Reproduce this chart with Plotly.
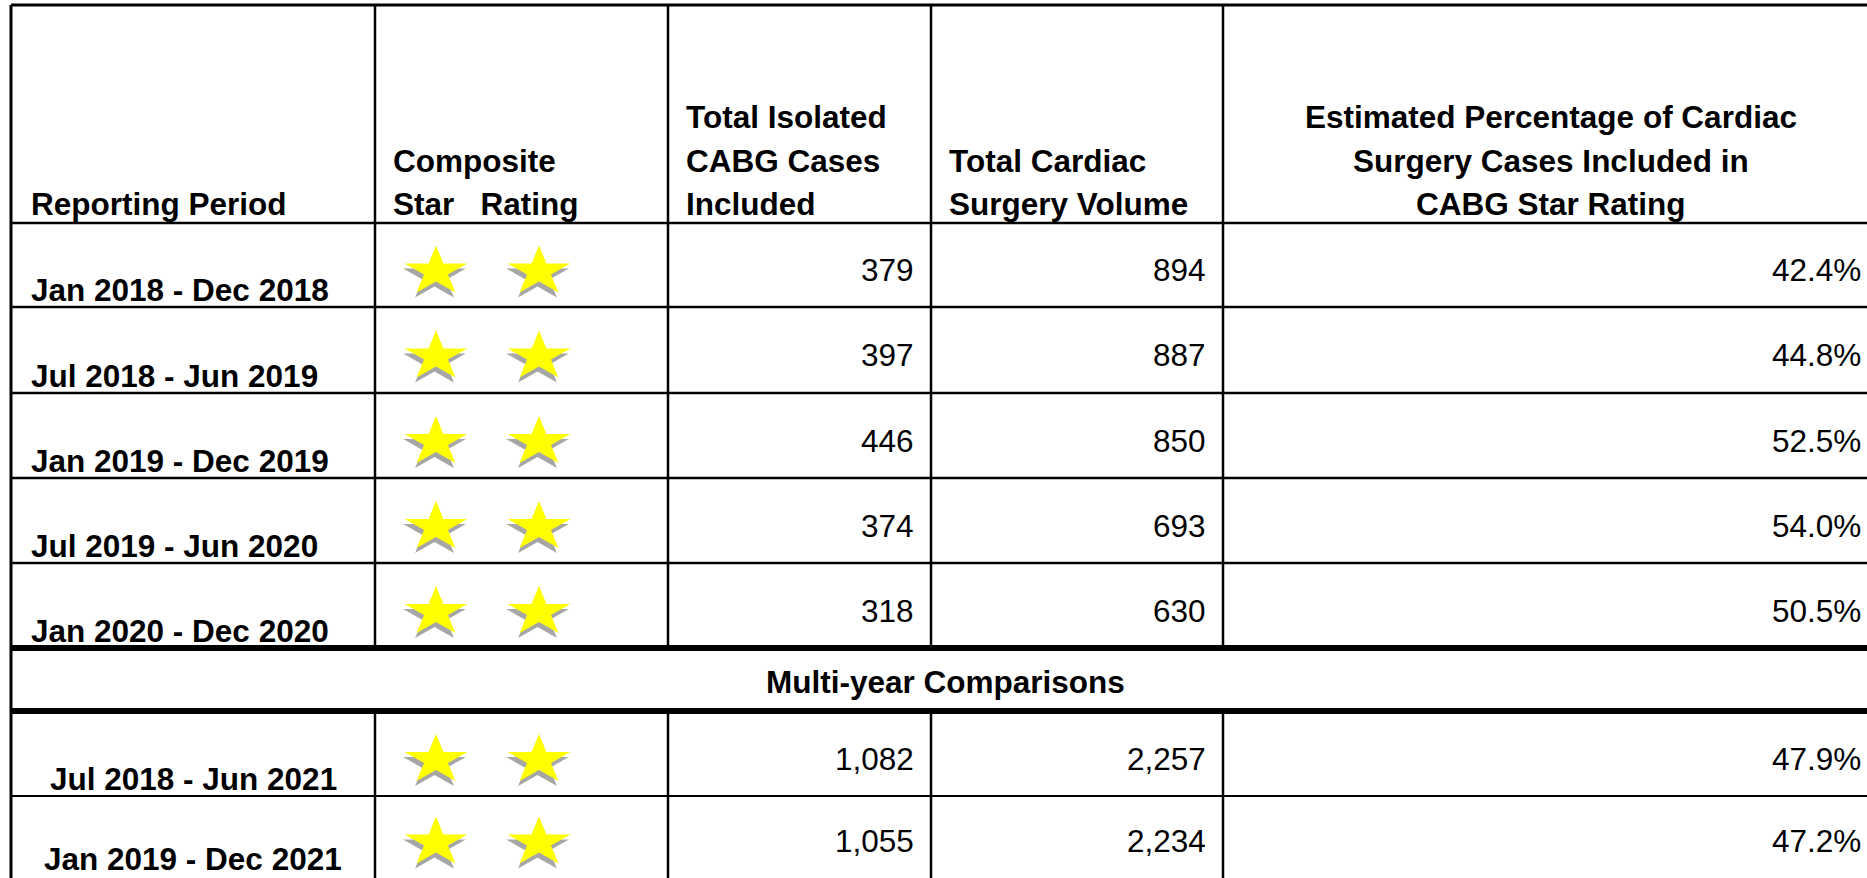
import math
import plotly.graph_objects as go

# ---------------- data ----------------
periods = ["Jan 2018 - Dec 2018", "Jul 2018 - Jun 2019", "Jan 2019 - Dec 2019",
           "Jul 2019 - Jun 2020", "Jan 2020 - Dec 2020"]
star_ratings = [2, 2, 2, 2, 2]
isolated_cabg = [379, 397, 446, 374, 318]
cardiac_volume = [894, 887, 850, 693, 630]
pct_included = [42.4, 44.8, 52.5, 54.0, 50.5]

multi_title = "Multi-year Comparisons"
multi_periods = ["Jul 2018 - Jun 2021", "Jan 2019 - Dec 2021"]
multi_ratings = [2, 2]
multi_isolated = [1082, 1055]
multi_volume = [2257, 2234]
multi_pct = [47.9, 47.2]

headers = [
    ["Reporting Period"],
    ["Composite", "Star\u00a0\u00a0\u00a0Rating"],
    ["Total Isolated", "CABG Cases", "Included"],
    ["Total Cardiac", "Surgery Volume"],
    ["Estimated Percentage of Cardiac", "Surgery Cases Included in", "CABG Star Rating"],
]

# ---------------- layout constants (pixels) ----------------
W, H = 1867, 878
COL = [11, 375, 668, 931, 1223, 1879]
TOP = 5
HEAD_BOT = 223
ROWS_A = [223, 307, 393, 478, 563, 648]
BAND = [648, 711]
ROWS_B = [711, 796, 876]
FONT = "Liberation Sans, Arial, sans-serif"
FS = 31.5
HEAD_BASE = [126, 170, 213]
STAR_X0, STAR_DX = 436, 103
STAR_RX, STAR_RY = 33, 26
SHADOW = (-1.5, 5)

fig = go.Figure()
shapes = []
annots = []


def hline(y, x0, x1, w):
    shapes.append(dict(type="line", x0=x0, x1=x1, y0=y, y1=y, xref="x", yref="y",
                       line=dict(color="black", width=w)))


def vline(x, y0, y1, w):
    shapes.append(dict(type="line", x0=x, x1=x, y0=y0, y1=y1, xref="x", yref="y",
                       line=dict(color="black", width=w)))


def text(x, y, s, bold=False, xanchor="left", yanchor="middle", size=FS):
    annots.append(dict(x=x, y=y, xref="x", yref="y", text=(f"<b>{s}</b>" if bold else s),
                       showarrow=False, xanchor=xanchor, yanchor=yanchor,
                       font=dict(family=FONT, size=size, color="black")))


def baseline_y(b):
    return b - 0.30 * FS


def star_poly(cx, cy):
    xs, ys = [], []
    for i in range(11):
        th = math.radians(-90 + 36 * i)
        r = 1.0 if i % 2 == 0 else 0.382
        xs.append(cx + STAR_RX * r * math.cos(th))
        ys.append(cy + STAR_RY * r * math.sin(th))
    return xs, ys


def add_stars(n, row_top, row_bot):
    cy = (row_top + row_bot) / 2 + 4 + 0.0955 * STAR_RY
    for k in range(n):
        cx = STAR_X0 + k * STAR_DX
        sx, sy = star_poly(cx + SHADOW[0], cy + SHADOW[1])
        fig.add_trace(go.Scatter(x=sx, y=sy, mode="lines", fill="toself",
                                 fillcolor="#A6A6A6", line=dict(width=0, color="#A6A6A6"),
                                 hoverinfo="skip", showlegend=False))
        sx, sy = star_poly(cx, cy)
        fig.add_trace(go.Scatter(x=sx, y=sy, mode="lines", fill="toself",
                                 fillcolor="#FFFF00", line=dict(width=0, color="#FFFF00"),
                                 hoverinfo="skip", showlegend=False))


# ---------------- grid ----------------
hline(TOP, COL[0], COL[-1], 3)
vline(COL[0], TOP, H + 5, 3)
hline(HEAD_BOT, COL[0], COL[-1], 2.5)
for y in ROWS_A[1:-1]:
    hline(y, COL[0], COL[-1], 2.5)
hline(BAND[0], COL[0], COL[-1], 6)
hline(BAND[1], COL[0], COL[-1], 6)
hline(ROWS_B[1], COL[0], COL[-1], 2.2)
for x in COL[1:]:
    vline(x, TOP, BAND[0], 2.5)
    vline(x, BAND[1], H + 5, 2.5)

# ---------------- header ----------------
for ci, lines in enumerate(headers):
    bases = HEAD_BASE[-len(lines):]
    for line, b in zip(lines, bases):
        if ci == 4:
            text((COL[4] + COL[5]) / 2, baseline_y(b), line, bold=True, xanchor="center")
        else:
            pad = 18 if ci == 0 else 16
            text(COL[ci] + pad, baseline_y(b), line, bold=True)


# ---------------- body ----------------
def body_row(top, bot, period, rating, iso, vol, pct, centered):
    if centered:
        text((COL[0] + COL[1]) / 2, baseline_y(bot - 8), period, bold=True, xanchor="center")
    else:
        text(COL[0] + 18, baseline_y(bot - 8), period, bold=True)
    add_stars(rating, top, bot)
    mid = (top + bot) / 2 + 5
    text(COL[3] - 15, mid, f"{iso:,}", xanchor="right")
    text(COL[4] - 15, mid, f"{vol:,}", xanchor="right")
    text(COL[5] - 16, mid, f"{pct:.1f}%", xanchor="right")


for i in range(len(periods)):
    body_row(ROWS_A[i], ROWS_A[i + 1], periods[i], star_ratings[i], isolated_cabg[i],
             cardiac_volume[i], pct_included[i], False)

text((COL[0] + COL[-1]) / 2, (BAND[0] + BAND[1]) / 2 + 2, multi_title, bold=True, xanchor="center")

for i in range(len(multi_periods)):
    body_row(ROWS_B[i], ROWS_B[i + 1], multi_periods[i], multi_ratings[i], multi_isolated[i],
             multi_volume[i], multi_pct[i], True)

fig.update_layout(
    width=W, height=H,
    margin=dict(l=0, r=0, t=0, b=0),
    paper_bgcolor="white", plot_bgcolor="white",
    xaxis=dict(range=[0, W], visible=False, fixedrange=True),
    yaxis=dict(range=[H, 0], visible=False, fixedrange=True),
    shapes=shapes, annotations=annots, showlegend=False,
)

fig.write_html("out.html", config={"displayModeBar": False},
               post_script="document.body.style.margin='0';document.body.style.overflow='hidden';")
